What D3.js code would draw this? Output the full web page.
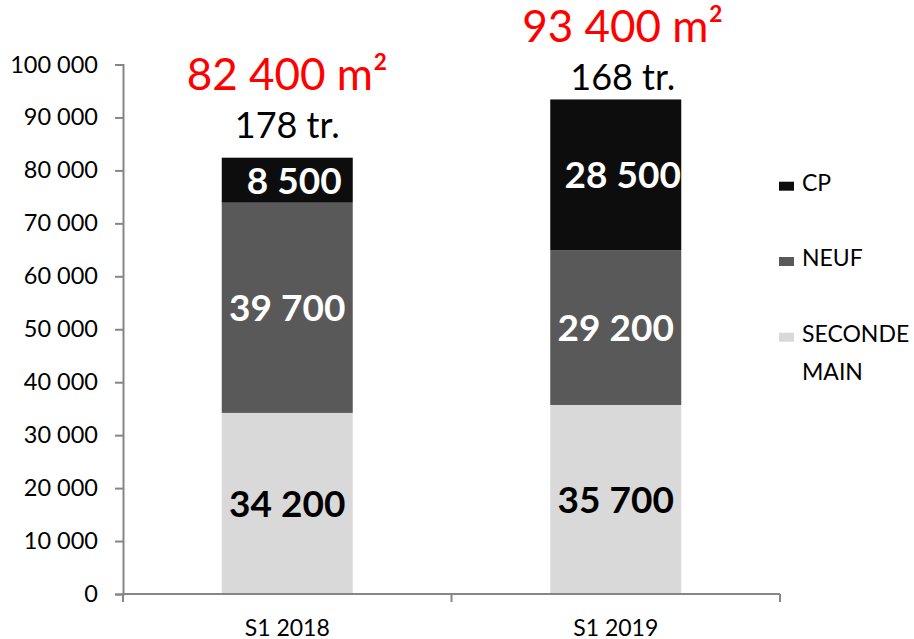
<!DOCTYPE html>
<html>
<head>
<meta charset="utf-8">
<script src="https://cdn.jsdelivr.net/npm/d3@7/dist/d3.min.js"></script>
<style>
  html, body { margin: 0; padding: 0; background: #fff; }
  svg { display: block; font-family: Lato, "Open Sans", sans-serif; }
</style>
</head>
<body>
<svg id="chart" width="914" height="639"></svg>
<script>
// Periods on the x axis
const periods = ["S1 2018", "S1 2019"];
// Surfaces (m²) per segment, stacked bottom to top
const secondeMain = [34200, 35700];
const neuf = [39700, 29200];
const cp = [8500, 28500];
// Number of transactions per period
const transactions = [178, 168];
// Y axis ticks
const yTicks = [0, 10000, 20000, 30000, 40000, 50000, 60000, 70000, 80000, 90000, 100000];
// Series names, bottom to top of the stack
const seriesNames = ["SECONDE MAIN", "NEUF", "CP"];
const seriesColors = ["#d9d9d9", "#595959", "#0d0d0d"];
const seriesLabelColors = ["#000000", "#ffffff", "#ffffff"];

const fr = d3.formatLocale({ decimal: ",", thousands: " ", grouping: [3], currency: ["", " €"] });
const fmt = fr.format(",");

const svg = d3.select("#chart");

const x = d3.scaleBand().domain(periods).range([123, 780]).paddingInner(0).paddingOuter(0);
const y = d3.scaleLinear().domain([0, 100000]).range([594, 64.5]);
const barW = 131;

const rows = periods.map((p, i) => ({ period: p, "SECONDE MAIN": secondeMain[i], "NEUF": neuf[i], "CP": cp[i] }));
const stack = d3.stack().keys(seriesNames)(rows);

// Bars
stack.forEach((layer, si) => {
  svg.append("g").selectAll("rect").data(layer).join("rect")
    .attr("x", d => x(d.data.period) + (x.bandwidth() - barW) / 2)
    .attr("y", d => y(d[1]))
    .attr("width", barW)
    .attr("height", d => y(d[0]) - y(d[1]))
    .attr("fill", seriesColors[si]);
});

// Segment value labels (CP labels sit slightly right of centre)
const labelShift = [0, 0, 7];
stack.forEach((layer, si) => {
  svg.append("g").selectAll("text").data(layer).join("text")
    .attr("x", d => x(d.data.period) + x.bandwidth() / 2 + labelShift[si])
    .attr("y", d => (y(d[0]) + y(d[1])) / 2 + 13.5)
    .attr("text-anchor", "middle")
    .attr("font-size", 37)
    .attr("font-weight", "bold")
    .attr("fill", seriesLabelColors[si])
    .text(d => fmt(d[1] - d[0]));
});

// Y axis
const yAxis = d3.axisLeft(y).tickValues(yTicks).tickSize(8).tickPadding(17).tickFormat(d => fmt(d));
const gy = svg.append("g").attr("transform", "translate(123,0)").call(yAxis);
gy.select(".domain").attr("stroke", "#868686").attr("stroke-width", 2);
gy.selectAll(".tick line").attr("stroke", "#868686").attr("stroke-width", 2);
gy.selectAll(".tick text").attr("font-size", 23.5).attr("font-family", "Lato, sans-serif").attr("fill", "#000");

// X axis
const xAxis = d3.axisBottom(x).tickSize(0).tickPadding(0);
const gx = svg.append("g").attr("transform", "translate(0,594)").call(xAxis);
gx.select(".domain").attr("stroke", "#868686").attr("stroke-width", 2).attr("d", "M123,0H780");
gx.selectAll(".tick text").attr("font-size", 23).attr("font-family", "Lato, sans-serif").attr("fill", "#000")
  .attr("dy", null).attr("y", 41.5);
// Category separators on the x axis
const edges = periods.map(p => x(p)).concat([x(periods[periods.length - 1]) + x.bandwidth()]);
gx.append("g").selectAll("line").data(edges).join("line")
  .attr("x1", d => d).attr("x2", d => d).attr("y1", 0).attr("y2", 8)
  .attr("stroke", "#868686").attr("stroke-width", 2);

// Totals above each bar: transactions and surface
const totals = periods.map((p, i) => secondeMain[i] + neuf[i] + cp[i]);
const lift = [20, 9];
const shiftX = [0, 7];
periods.forEach((p, i) => {
  const cx = x(p) + x.bandwidth() / 2 + shiftX[i];
  const base = y(totals[i]) - lift[i];
  svg.append("text")
    .attr("x", cx).attr("y", base)
    .attr("text-anchor", "middle").attr("font-size", 36).attr("fill", "#000")
    .text(transactions[i] + " tr.");
  svg.append("text")
    .attr("x", cx).attr("y", base - 48)
    .attr("text-anchor", "middle").attr("font-size", 44).attr("fill", "#ff0000")
    .text(fmt(totals[i]) + " m²");
});

// Legend, top to bottom: CP, NEUF, SECONDE MAIN
const legendOrder = [2, 1, 0];
const legendBase = [190.7, 266, 341.7];
legendOrder.forEach((si, k) => {
  const g = svg.append("g");
  g.append("rect")
    .attr("x", 779).attr("y", legendBase[k] - 9)
    .attr("width", 15).attr("height", 9)
    .attr("fill", seriesColors[si]);
  const words = seriesNames[si] === "SECONDE MAIN" ? ["SECONDE", "MAIN"] : [seriesNames[si]];
  const t = g.append("text").attr("font-size", 23).attr("fill", "#000");
  words.forEach((w, j) => {
    t.append("tspan").attr("x", 802).attr("y", legendBase[k] + j * 38.3).text(w);
  });
});
</script>
</body>
</html>
